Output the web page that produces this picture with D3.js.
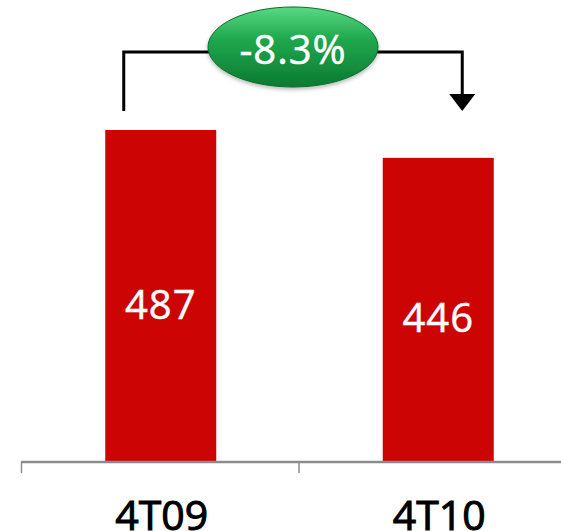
<!DOCTYPE html>
<html>
<head>
<meta charset="utf-8">
<script src="https://cdn.jsdelivr.net/npm/d3@7"></script>
<style>
  body { margin: 0; background: #fff; }
  svg { display: block; font-family: "Open Sans", "Noto Sans", sans-serif; }
</style>
</head>
<body>
<svg id="chart" width="561" height="531"></svg>
<script>
const categories = ["4T09", "4T10"];
const values = [487, 446];
const changeLabel = "-8.3%";

const svg = d3.select("#chart");
const width = 561;
const baseY = 461;

// three bands, last one runs off the right edge
const x = d3.scaleBand()
  .domain(categories)
  .range([21, 576])
  .paddingInner(0)
  .paddingOuter(0);

const y = d3.scaleLinear()
  .domain([0, 487])
  .range([baseY, 130]);

const barW = 111;

const defs = svg.append("defs");
const grad = defs.append("linearGradient")
  .attr("id", "green")
  .attr("x1", 0).attr("y1", 0).attr("x2", 0).attr("y2", 1);
grad.append("stop").attr("offset", "0%").attr("stop-color", "#5ad884");
grad.append("stop").attr("offset", "40%").attr("stop-color", "#20a84e");
grad.append("stop").attr("offset", "100%").attr("stop-color", "#0b7a31");

const blur = defs.append("filter").attr("id", "shadow")
  .attr("x", "-20%").attr("y", "-20%").attr("width", "140%").attr("height", "150%");
blur.append("feGaussianBlur").attr("in", "SourceAlpha").attr("stdDeviation", 2);
blur.append("feOffset").attr("dy", 2).attr("result", "b");
blur.append("feComponentTransfer").append("feFuncA").attr("type", "linear").attr("slope", 0.3);
const merge = blur.append("feMerge");
merge.append("feMergeNode");
merge.append("feMergeNode").attr("in", "SourceGraphic");

// bars
svg.selectAll("rect.bar")
  .data(values)
  .enter()
  .append("rect")
  .attr("class", "bar")
  .attr("x", (d, i) => x(categories[i]) + x.bandwidth() / 2 - barW / 2 + 1)
  .attr("y", (d) => y(d))
  .attr("width", barW)
  .attr("height", (d) => baseY - y(d))
  .attr("fill", "#cc0404");

// value labels
svg.selectAll("text.val")
  .data(values)
  .enter()
  .append("text")
  .attr("class", "val")
  .attr("x", (d, i) => x(categories[i]) + x.bandwidth() / 2 + 1)
  .attr("y", (d) => (y(d) + baseY) / 2 + 23)
  .attr("text-anchor", "middle")
  .attr("fill", "#fff")
  .attr("stroke", "#fff")
  .attr("stroke-width", 0.5)
  .attr("font-size", 40)
  .attr("letter-spacing", 1)
  .text((d) => d);

// axis
svg.append("line")
  .attr("x1", 21).attr("x2", width)
  .attr("y1", baseY + 1).attr("y2", baseY + 1)
  .attr("stroke", "#8c8c8c").attr("stroke-width", 2.5);

svg.selectAll("line.tick")
  .data(categories)
  .enter()
  .append("line")
  .attr("class", "tick")
  .attr("x1", (d) => x(d) + 0.5).attr("x2", (d) => x(d) + 0.5)
  .attr("y1", baseY).attr("y2", baseY + 12)
  .attr("stroke", "#8c8c8c").attr("stroke-width", 1.5);

svg.selectAll("text.cat")
  .data(categories)
  .enter()
  .append("text")
  .attr("class", "cat")
  .attr("x", (d) => x(d) + x.bandwidth() / 2 + 2)
  .attr("y", 530)
  .attr("text-anchor", "middle")
  .attr("fill", "#000")
  .attr("stroke", "#000")
  .attr("stroke-width", 1)
  .attr("font-size", 41)
  .text((d) => d);

// change bracket
const leftX = x(categories[0]) + x.bandwidth() / 2 - 36;
const rightX = x(categories[1]) + x.bandwidth() / 2 + 25;
const topY = 52;
const endY = 111;

svg.append("path")
  .attr("d", `M${leftX},${endY} V${topY} H${rightX} V${endY - 16}`)
  .attr("fill", "none")
  .attr("stroke", "#000")
  .attr("stroke-width", 3);

svg.append("path")
  .attr("d", `M${rightX - 13},${endY - 17} L${rightX + 13},${endY - 17} L${rightX},${endY} Z`)
  .attr("fill", "#000");

const cx = (leftX + rightX) / 2;
svg.append("ellipse")
  .attr("cx", cx).attr("cy", 47)
  .attr("rx", 85).attr("ry", 40)
  .attr("fill", "url(#green)")
  .attr("stroke", "#0b6e2c")
  .attr("stroke-width", 1)
  .attr("filter", "url(#shadow)");

svg.append("text")
  .attr("x", cx)
  .attr("y", 64)
  .attr("text-anchor", "middle")
  .attr("fill", "#fff")
  .attr("stroke", "#fff")
  .attr("stroke-width", 0.5)
  .attr("font-size", 40)
  .attr("letter-spacing", 1)
  .text(changeLabel);
</script>
</body>
</html>
